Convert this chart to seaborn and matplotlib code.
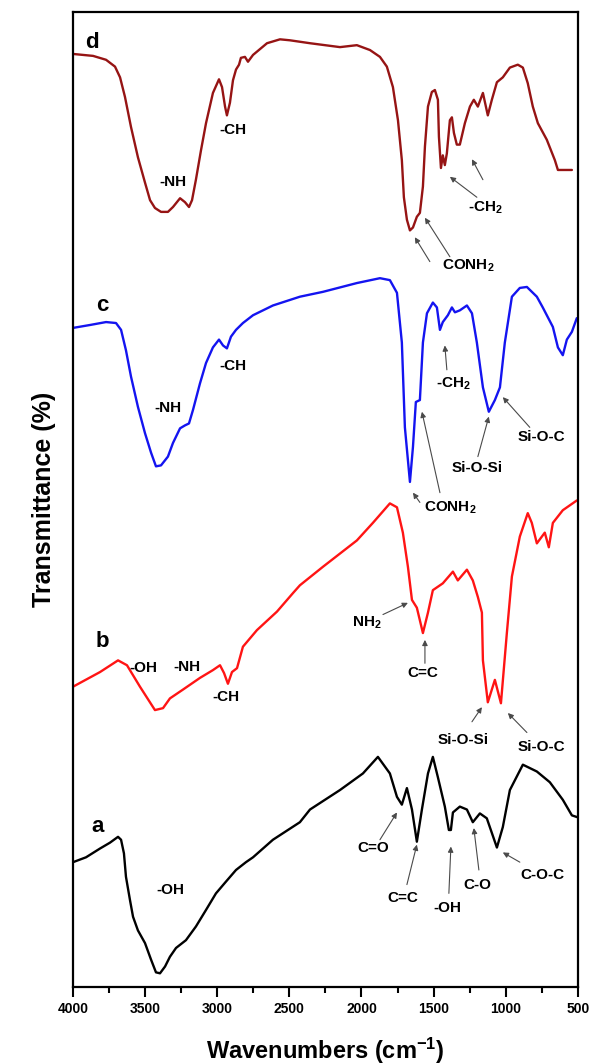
import matplotlib
matplotlib.use("Agg")
import matplotlib.pyplot as plt
import seaborn as sns
import pandas as pd

# FTIR spectra (wavenumber in cm-1, transmittance offset for stacking)
wn_a = [4000, 3910, 3813, 3744, 3688, 3667, 3647, 3633, 3605, 3584, 3550, 3501, 3459, 3425,
        3397, 3362, 3328, 3286, 3217, 3148, 3078, 3009, 2940, 2870, 2801, 2752, 2614, 2427,
        2357, 2149, 1990, 1886, 1803, 1754, 1720, 1685, 1650, 1616, 1581, 1539, 1505, 1470,
        1422, 1394, 1380, 1366, 1318, 1269, 1228, 1179, 1131, 1061, 1020, 971, 881, 784,
        694, 604, 541, 500]
t_a = [12.8, 13.3, 14.2, 14.8, 15.4, 15.1, 13.7, 11.3, 8.9, 7.2, 5.8, 4.5, 2.8, 1.5,
       1.4, 2.1, 3.1, 4.0, 4.8, 6.2, 7.9, 9.6, 10.8, 12.0, 12.8, 13.3, 15.1, 16.9,
       18.2, 20.2, 21.9, 23.6, 21.9, 19.5, 18.7, 20.4, 18.2, 14.9, 18.2, 21.9, 23.6, 21.5,
       18.5, 16.1, 16.1, 17.9, 18.5, 18.2, 16.9, 17.8, 17.3, 14.3, 16.4, 20.2, 22.8, 22.1,
       21.0, 19.2, 17.6, 17.4]

wn_b = [4000, 3813, 3688, 3626, 3536, 3432, 3376, 3328, 3238, 3120, 3030, 2981, 2953, 2926,
        2898, 2863, 2822, 2725, 2586, 2475, 2427, 2267, 2032, 1921, 1803, 1754, 1713, 1678,
        1650, 1616, 1574, 1539, 1505, 1436, 1366, 1332, 1269, 1228, 1193, 1165, 1158, 1124,
        1075, 1033, 992, 957, 902, 847, 819, 784, 729, 701, 673, 604, 507]
t_b = [30.8, 32.3, 33.5, 33.0, 30.8, 28.4, 28.6, 29.6, 30.5, 31.7, 32.5, 33.0, 32.2, 31.1,
       32.3, 32.7, 34.9, 36.6, 38.5, 40.4, 41.2, 43.1, 45.8, 47.6, 49.6, 49.2, 46.6, 43.1,
       39.7, 38.9, 36.3, 38.4, 40.7, 41.4, 42.6, 41.7, 42.8, 41.7, 40.0, 38.4, 33.5, 29.2,
       31.5, 29.1, 36.3, 42.1, 46.2, 48.6, 47.6, 45.5, 46.6, 45.1, 47.6, 48.9, 49.9]

wn_c = [4000, 3882, 3771, 3702, 3667, 3633, 3598, 3550, 3501, 3459, 3425, 3390, 3342, 3307,
        3258, 3224, 3196, 3168, 3120, 3078, 3030, 2988, 2960, 2933, 2905, 2870, 2822, 2752,
        2614, 2427, 2267, 2032, 1872, 1803, 1754, 1720, 1699, 1664, 1643, 1623, 1595, 1574,
        1546, 1505, 1477, 1456, 1436, 1401, 1373, 1352, 1318, 1269, 1234, 1200, 1158, 1117,
        1075, 1040, 1006, 957, 902, 853, 784, 743, 673, 638, 604, 576, 541, 507]
t_c = [67.6, 67.9, 68.2, 68.1, 67.4, 65.3, 62.6, 59.5, 56.8, 54.8, 53.4, 53.5, 54.4, 55.8,
       57.3, 57.6, 57.8, 59.2, 61.9, 64.0, 65.6, 66.4, 65.8, 65.5, 66.7, 67.4, 68.1, 68.9,
       69.9, 70.8, 71.3, 72.2, 72.7, 72.5, 71.2, 66.1, 57.4, 51.8, 55.4, 60.0, 60.2, 66.1,
       69.1, 70.2, 69.7, 67.4, 68.2, 68.9, 69.7, 69.2, 69.4, 69.9, 69.1, 66.1, 61.5, 59.0,
       60.2, 61.5, 66.1, 70.8, 71.7, 71.8, 70.8, 69.7, 67.7, 65.6, 64.8, 66.4, 67.2, 68.6]

wn_d = [4000, 3861, 3771, 3709, 3674, 3640, 3598, 3550, 3501, 3466, 3432, 3390, 3342, 3307,
        3258, 3224, 3196, 3175, 3148, 3113, 3078, 3030, 2988, 2967, 2946, 2933, 2912, 2891,
        2870, 2849, 2836, 2808, 2787, 2752, 2655, 2565, 2496, 2357, 2149, 2032, 1941, 1872,
        1824, 1782, 1747, 1720, 1706, 1685, 1664, 1643, 1616, 1595, 1574, 1560, 1539, 1512,
        1491, 1470, 1463, 1449, 1436, 1422, 1408, 1387, 1373, 1359, 1339, 1318, 1283, 1248,
        1221, 1193, 1158, 1124, 1096, 1061, 1020, 971, 916, 881, 847, 812, 777, 715,
        659, 638, 576, 541]
t_d = [95.7, 95.5, 95.1, 94.4, 93.3, 91.3, 88.2, 85.1, 82.5, 80.7, 79.9, 79.5, 79.5, 80.0,
       80.9, 80.5, 80.0, 80.7, 82.8, 85.8, 88.6, 91.7, 93.1, 92.3, 90.3, 89.4, 90.7, 93.0,
       94.1, 94.6, 95.3, 95.4, 94.9, 95.6, 96.8, 97.2, 97.1, 96.8, 96.4, 96.6, 96.1, 95.4,
       94.4, 92.3, 88.9, 84.8, 81.0, 78.7, 77.6, 77.9, 79.0, 79.4, 82.1, 86.2, 90.3, 91.8,
       92.0, 91.0, 87.2, 84.0, 85.3, 84.3, 85.5, 88.9, 89.2, 87.6, 86.4, 86.4, 88.6, 90.3,
       91.0, 90.3, 91.7, 89.4, 91.0, 92.8, 93.3, 94.3, 94.6, 94.3, 92.7, 90.3, 88.6, 86.9,
       84.8, 83.8, 83.8, 83.8]

colors = {"a": "#000000", "b": "#ff1414", "c": "#1414f0", "d": "#961414"}

frames = []
for name, xs, ys in [("a", wn_a, t_a), ("b", wn_b, t_b), ("c", wn_c, t_c), ("d", wn_d, t_d)]:
    frames.append(pd.DataFrame({"wavenumber": xs, "T": ys, "sample": name}))
df = pd.concat(frames, ignore_index=True)

sns.set_style("ticks")
plt.rcParams["font.family"] = ["Liberation Sans", "DejaVu Sans"]
plt.rcParams["text.color"] = "black"
plt.rcParams["axes.labelcolor"] = "black"
plt.rcParams["axes.edgecolor"] = "black"
plt.rcParams["xtick.color"] = "black"
plt.rcParams["mathtext.fontset"] = "custom"
plt.rcParams["mathtext.rm"] = "Liberation Sans:bold"
plt.rcParams["mathtext.bf"] = "Liberation Sans:bold"
plt.rcParams["mathtext.it"] = "Liberation Sans:bold"

fig = plt.figure(figsize=(5.89, 10.64), dpi=100)
ax = fig.add_axes([0.124, 0.0724, 0.857, 0.9163])

sns.lineplot(data=df, x="wavenumber", y="T", hue="sample", palette=colors,
             sort=False, estimator=None, linewidth=1.7, legend=False, ax=ax)

ax.set_xlim(4000, 500)
ax.set_ylim(0, 100)
ax.set_yticks([])
ax.set_xticks([4000, 3500, 3000, 2500, 2000, 1500, 1000, 500])
ax.set_xticks([3750, 3250, 2750, 2250, 1750, 1250, 750], minor=True)
ax.tick_params(axis="x", which="major", direction="out", length=7, width=1.5,
               labelsize=10, pad=4, colors="black")
ax.tick_params(axis="x", which="minor", direction="out", length=4, width=1.5, colors="black")
for lab in ax.get_xticklabels():
    lab.set_fontweight("bold")
for sp in ax.spines.values():
    sp.set_linewidth(1.6)
    sp.set_color("black")
    sp.set_visible(True)

ax.set_xlabel(r"Wavenumbers (cm$^{\mathbf{-1}}$)", fontsize=17, fontweight="bold", labelpad=14)
ax.set_ylabel("Transmittance (%)", fontsize=18, fontweight="bold", labelpad=12)

# sample labels
for name, x, y in [("d", 3868, 96.9), ("c", 3799, 69.9), ("b", 3799, 35.4), ("a", 3827, 16.5)]:
    ax.text(x, y, name, fontsize=16, fontweight="bold", ha="center", va="center")

# band labels without arrows
plain = [("-NH", 3307, 82.6), ("-CH", 2891, 87.9),
         ("-NH", 3342, 59.4), ("-CH", 2891, 63.7),
         ("-OH", 3515, 32.7), ("-NH", 3210, 32.8), ("-CH", 2940, 29.7),
         ("-OH", 3328, 9.9)]
for txt, x, y in plain:
    ax.text(x, y, txt, fontsize=11, fontweight="bold", ha="center", va="center")

# band labels with arrows: (text, text x, text y, [(tail x, tail y, tip x, tip y), ...])
arrowed = [
    ("CONH$_2$", 1262, 74.0, [(1526, 74.4, 1630, 76.9), (1387, 74.9, 1560, 78.9)]),
    ("-CH$_2$", 1144, 79.9, [(1200, 81.0, 1387, 83.1), (1158, 82.8, 1234, 84.9)]),
    ("-CH$_2$", 1366, 61.9, [(1408, 63.3, 1422, 65.8)]),
    ("Si-O-Si", 1200, 53.2, [(1193, 54.4, 1117, 58.5)]),
    ("Si-O-C", 749, 56.4, [(833, 57.4, 1020, 60.5)]),
    ("CONH$_2$", 1387, 49.1, [(1595, 49.7, 1643, 50.7), (1456, 50.7, 1581, 59.0)]),
    ("NH$_2$", 1962, 37.4, [(1851, 38.2, 1678, 39.4)]),
    ("C=C", 1574, 32.2, [(1560, 33.2, 1560, 35.6)]),
    ("Si-O-Si", 1297, 25.3, [(1234, 27.2, 1165, 28.7)]),
    ("Si-O-C", 749, 24.6, [(853, 26.1, 985, 28.1)]),
    ("C=O", 1921, 14.3, [(1872, 15.1, 1754, 17.9)]),
    ("C=C", 1713, 9.1, [(1685, 10.5, 1616, 14.6)]),
    ("-OH", 1401, 8.1, [(1394, 9.6, 1380, 14.4)]),
    ("C-O", 1193, 10.5, [(1186, 12.0, 1221, 16.3)]),
    ("C-O-C", 742, 11.5, [(902, 12.8, 1020, 13.8)]),
]
for txt, x, y, arrows in arrowed:
    ax.text(x, y, txt, fontsize=11, fontweight="bold", ha="center", va="center")
    for tx, ty, hx, hy in arrows:
        ax.annotate("", xy=(hx, hy), xytext=(tx, ty),
                    arrowprops=dict(arrowstyle="-|>", color="#4a4a4a", lw=0.8,
                                    mutation_scale=8, shrinkA=0, shrinkB=0))

fig.savefig("out.png", dpi=100)
